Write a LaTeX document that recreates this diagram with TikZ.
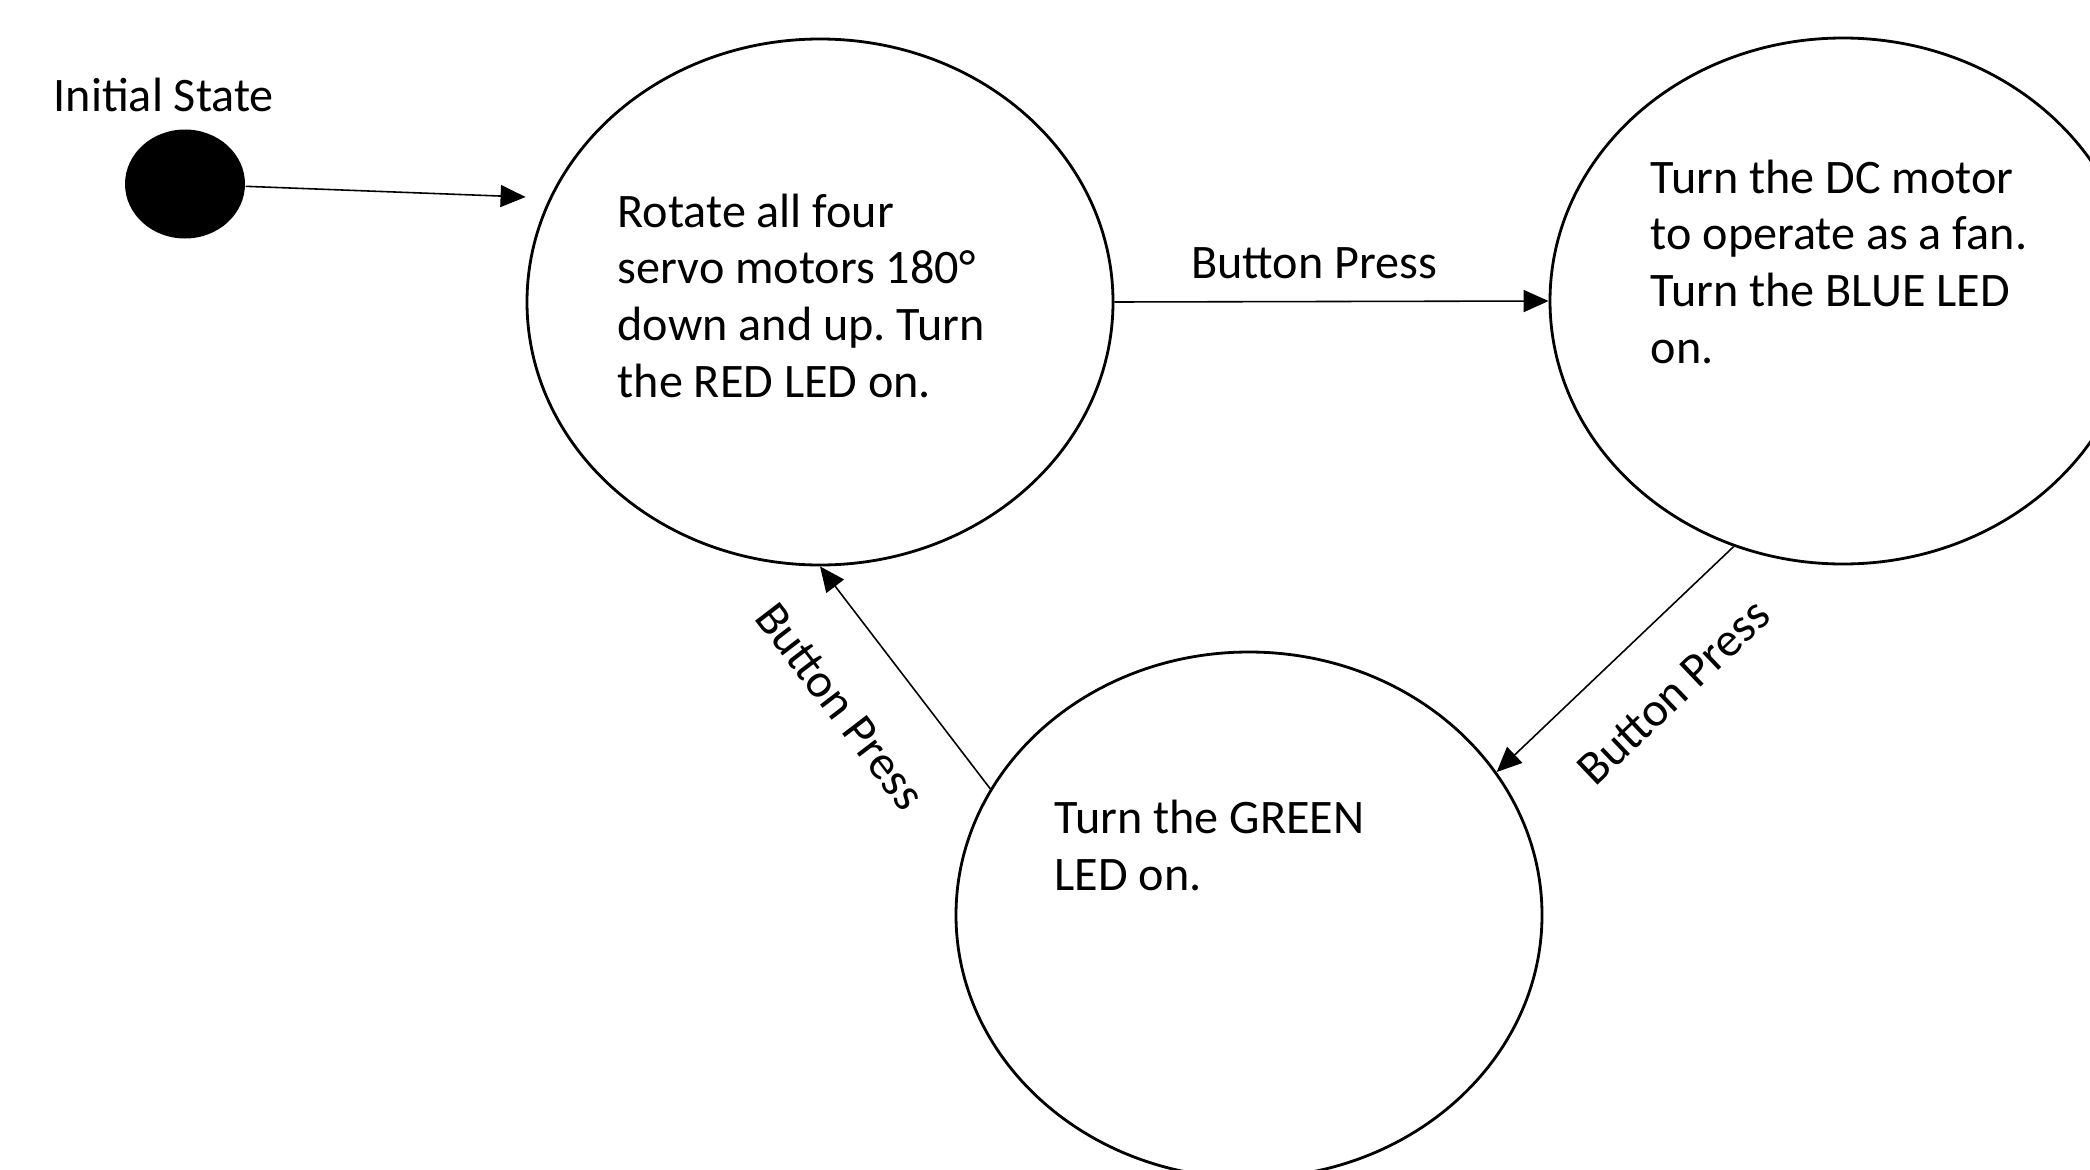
\documentclass[tikz,border=0pt]{standalone}
\usepackage{fontspec}
\setmainfont{Carlito}
\usetikzlibrary{shapes.geometric,arrows.meta}
\tikzstyle{state} = [ellipse, draw=black, line width=0.8pt, minimum width=5.86cm, minimum height=5.26cm, inner sep=0pt]
\tikzstyle{startdot} = [ellipse, fill=black, minimum width=1.2cm, minimum height=1.09cm, inner sep=0pt]
\tikzstyle{statetext} = [align=left, inner sep=0pt, font=\fontsize{13.7pt}{16.1pt}\selectfont\frenchspacing]
\tikzstyle{trans} = [font=\fontsize{13.7pt}{16.1pt}\selectfont]
\tikzstyle{arrow} = [line width=0.45pt,-{Triangle[length=2.5mm,width=2.2mm]}]
\begin{document}
\begin{tikzpicture}[node distance=2cm]
\clip (0,0) rectangle (20.9,-11.69);
\node (init) [startdot] at (1.85,-1.84) {};
\node (initlbl) [statetext, anchor=base west] at (0.53,-1.11) {Initial State};
\node (s1) [state] at (8.20,-3.02) {};
\node (s2) [state, right of=s1, xshift=8.23cm, yshift=0.01cm] {};
\node (s3) [state, below of=s1, xshift=4.29cm, yshift=-4.13cm] {};
% base anchor = baseline of the last line
\node (t1) [statetext, anchor=base west] at ([xshift=-2.03cm, yshift=-0.95cm]s1.center) {Rotate all four\\servo motors 180°\\down and up. Turn\\the RED LED on.};
\node (t2) [statetext, anchor=base west] at ([xshift=-1.93cm, yshift=-0.62cm]s2.center) {Turn the DC motor\\to operate as a fan.\\Turn the BLUE LED\\on.};
\node (t3) [statetext, anchor=base west] at ([xshift=-1.95cm, yshift=0.25cm]s3.center) {Turn the GREEN\\LED on.};

\draw [arrow] (init) -- ([yshift=1.05cm]s1.west);
\draw [arrow] (s1.east) -- node[trans, pos=0.46, above=0.1cm] {Button Press} (s2.west);
\draw [arrow] (s2.246) -- node[trans, sloped, pos=0.44, below=0.36cm] {Button Press} (s3.30);
\draw [arrow] (s3.154) -- node[trans, sloped, pos=0.56, below=0.41cm] {Button Press} (s1.south);
\end{tikzpicture}
\end{document}
